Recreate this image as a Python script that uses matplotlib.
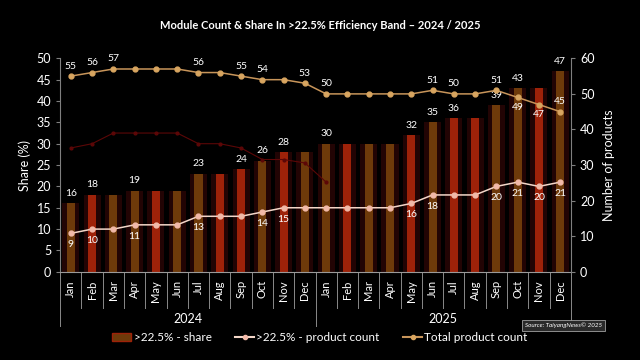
import numpy as np
import matplotlib.pyplot as plt
from matplotlib.patches import Patch
from matplotlib.lines import Line2D

plt.rcParams['font.family'] = ['Lato', 'DejaVu Sans']

months = ["Jan", "Feb", "Mar", "Apr", "May", "Jun", "Jul", "Aug", "Sep", "Oct", "Nov", "Dec"] * 2
years = ["2024", "2025"]

# >22.5% share (%), left axis
share = [16, 18, 18, 19, 19, 19, 23, 23, 24, 26, 28, 28,
         30, 30, 30, 30, 32, 35, 36, 36, 39, 43, 43, 47]
share_lbl = [16, 18, None, 19, None, None, 23, None, 24, 26, 28, None,
             30, None, None, None, 32, 35, 36, None, 39, 43, None, 47]

# >22.5% product count (drawn on the share scale, as in the source)
count = [9, 10, 10, 11, 11, 11, 13, 13, 13, 14, 15, 15,
         15, 15, 15, 15, 16, 18, 18, 18, 20, 21, 20, 21]
count_lbl = [9, 10, None, 11, None, None, 13, None, None, 14, 15, None,
             None, None, None, None, 16, 18, None, None, 20, 21, 20, 21]

# total product count, right axis
total = [55, 56, 57, 57, 57, 57, 56, 56, 55, 54, 54, 53,
         50, 50, 50, 50, 50, 51, 50, 50, 51, 49, 47, 45]
total_lbl = [55, 56, 57, None, None, None, 56, None, 55, 54, None, 53,
             50, None, None, None, None, 51, 50, None, 51, 49, 47, 45]

# faint leftover red trace seen in the image
ghost = [29, 30, 32.5, 32.5, 32.5, 32.5, 30, 30, 29, 26.3, 26.3, 25.5, 21] + [np.nan] * 11

# bar colour pattern (B = brown, R = red)
pattern = "BRBBRBBRRBRB" + "BRBBRBRRBBRB"
cmap = {"B": "#6e3a0a", "R": "#9e2209"}

x = np.arange(len(months))
fig = plt.figure(figsize=(6.4, 3.6), dpi=100, facecolor="black")
ax = fig.add_axes([0.094, 0.245, 0.798, 0.593])
ax.set_facecolor("black")
ax2 = ax.twinx()

ax.bar(x, share, width=0.8, color="#220404", zorder=1)
ax.bar(x, share, width=0.38, color=[cmap[c] for c in pattern], zorder=2)
ax.plot(x, ghost, color="#5c0707", lw=0.8, marker="o", ms=2, zorder=3)
ax.plot(x, count, color="#f3d6c8", lw=1.1, marker="o", ms=3.5,
        mfc="#f2b9a8", mec="#f2b9a8", zorder=4)
ax2.plot(x, total, color="#c8955a", lw=1.1, marker="o", ms=3.5,
         mfc="#d8a560", mec="#d8a560", zorder=4)

for i in range(len(x)):
    if share_lbl[i] is not None:
        ax.annotate(str(share_lbl[i]), (x[i], share[i]), xytext=(0, 4), textcoords="offset points",
                    ha="center", va="bottom", color="white", fontsize=7.5)
    if count_lbl[i] is not None:
        ax.annotate(str(count_lbl[i]), (x[i], count[i]), xytext=(0, -5), textcoords="offset points",
                    ha="center", va="top", color="white", fontsize=7.5)
    if total_lbl[i] is not None:
        below = i in (21, 22)
        ax2.annotate(str(total_lbl[i]), (x[i], total[i]), xytext=(0, -4 if below else 4),
                     textcoords="offset points", ha="center",
                     va="top" if below else "bottom", color="white", fontsize=7.5)

ax.set_xlim(-0.5, len(x) - 0.5)
ax.set_ylim(0, 50)
ax2.set_ylim(0, 60)
ax.set_yticks(range(0, 51, 5))
ax2.set_yticks(range(0, 61, 10))

for a in (ax, ax2):
    for s in a.spines.values():
        s.set_visible(False)
    a.tick_params(colors="white", labelsize=9, length=3)
ax.spines["left"].set_visible(True)
ax.spines["left"].set_color("#7f7f7f")
ax.spines["bottom"].set_visible(True)
ax.spines["bottom"].set_color("#9a9a9a")
ax2.spines["right"].set_visible(True)
ax2.spines["right"].set_color("#7f7f7f")
ax.tick_params(axis="y", color="#7f7f7f")
ax2.tick_params(axis="y", color="#7f7f7f")

ax.set_xticks(x)
ax.set_xticklabels(months, rotation=90, fontsize=8, color="white")
ax.tick_params(axis="x", length=0, pad=6)

# category separators and year labels
tr = ax.get_xaxis_transform()
for b in np.arange(-0.5, len(x), 1):
    long = b in (-0.5, 11.5, 23.5)
    ax.plot([b, b], [0, -0.255 if long else -0.17], transform=tr, color="#8a8a8a",
            lw=0.7, clip_on=False)
for k, yr in enumerate(years):
    ax.text(5.5 + 12 * k, -0.22, yr, transform=tr, ha="center", va="center",
            color="white", fontsize=9)

ax.set_ylabel("Share (%)", color="white", fontsize=9, labelpad=4)
ax2.set_ylabel("Number of products", color="white", fontsize=9, labelpad=6)

fig.text(0.5, 0.928, "Module Count & Share In >22.5% Efficiency Band \u2013 2024 / 2025",
         ha="center", va="center", color="white", fontsize=8, fontweight="bold")

handles = [Patch(facecolor="#6e3a0a", edgecolor="#9e2209"),
           Line2D([], [], color="#f3d6c8", marker="o", ms=3, mfc="#f2b9a8", mec="#f2b9a8"),
           Line2D([], [], color="#c8955a", marker="o", ms=3, mfc="#d8a560", mec="#d8a560")]
leg = fig.legend(handles, [">22.5% - share", ">22.5% - product count", "Total product count"],
                 loc="center", bbox_to_anchor=(0.5, 0.062), ncol=3, frameon=False,
                 fontsize=8.5, handlelength=1.6, handletextpad=0.2, columnspacing=2.0)
for t in leg.get_texts():
    t.set_color("white")

fig.text(0.8805, 0.0955, "Source: TaiyangNews\u00a9 2025", ha="center", va="center",
         color="white", fontsize=4.5, style="italic",
         bbox=dict(boxstyle="square,pad=0.4", fc="#2a2a2a", ec="#a0a0a0", lw=0.6))

fig.savefig("out.png", dpi=100, facecolor="black")
